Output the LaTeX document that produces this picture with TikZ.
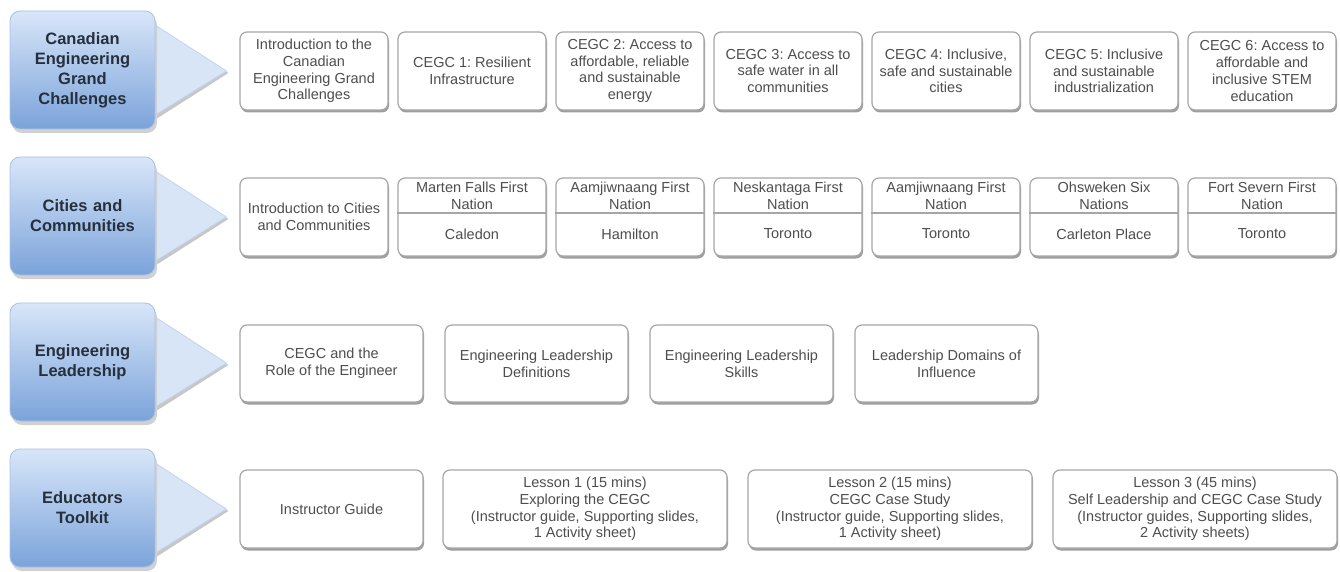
\documentclass[tikz,border=0pt]{standalone}
\usepackage{fontspec}
\setmainfont{Liberation Sans}
\frenchspacing
\usetikzlibrary{shadows,backgrounds,calc}
\definecolor{btop}{HTML}{D8E6F9}
\definecolor{bbot}{HTML}{7BA3DA}
\definecolor{bedge}{HTML}{A9C2E6}
\definecolor{trifill}{HTML}{D8E5F7}
\definecolor{triedge}{HTML}{C3D4EC}
\definecolor{cborder}{HTML}{A6A6A6}
\definecolor{ctext}{HTML}{4E4E4E}
\definecolor{btext}{HTML}{26303D}
\tikzset{
  bluebox/.style={rounded corners=10pt, minimum width=145pt, minimum height=118pt,
    top color=btop, bottom color=bbot, draw=bedge, line width=0.8pt,
    text width=138pt, align=center, inner sep=0pt, text=btext,
    font=\fontsize{16.5}{20}\selectfont\bfseries,
    drop shadow={shadow xshift=2pt, shadow yshift=-4pt, fill=black!18, opacity=1}},
  childbox/.style={rounded corners=7pt, draw=cborder, line width=1.2pt, fill=white,
    text=ctext, align=center, inner sep=1pt, font=\fontsize{14.5}{16.8}\selectfont,
    drop shadow={shadow xshift=1pt, shadow yshift=-2.5pt, fill=black!38, opacity=1}},
  narrow/.style={childbox, minimum width=148pt, minimum height=78pt},
  mid/.style={childbox, minimum width=183pt, minimum height=77pt},
  wide/.style={childbox, minimum width=284pt, minimum height=78pt},
  celltext/.style={text=ctext, align=center, inner sep=0pt, font=\fontsize{14.5}{16.5}\selectfont},
  tri/.style={fill=trifill, draw=triedge, line width=0.8pt},
  trishadow/.style={fill=black!22}
}
\begin{document}
\begin{tikzpicture}[x=1pt,y=-1pt]
\useasboundingbox (0,0) rectangle (1340,572);

% category boxes
\node[bluebox] (b1) at (82.5,70) {Canadian\\Engineering\\Grand\\Challenges};
\node[bluebox] (b2) at (82.5,216) {Cities and\\Communities};
\node[bluebox] (b3) at (82.5,362) {Engineering\\Leadership};
\node[bluebox] (b4) at (82.5,508) {Educators\\Toolkit};

\begin{pgfonlayer}{background}
\fill[white] (0,0) rectangle (1340,572);
\foreach \b in {b1,b2,b3,b4}{
  \fill[trishadow] ($(\b.east)+(-4,-45)$) -- ($(\b.east)+(73,3)$) -- ($(\b.east)+(-4,52)$) -- cycle;
  \filldraw[tri] ($(\b.east)+(-5,-48)$) -- ($(\b.east)+(71,1)$) -- ($(\b.east)+(-5,48)$) -- cycle;
}
\end{pgfonlayer}

% row 1
\node[narrow] (r1c1) at (314,71) {Introduction to the\\Canadian\\Engineering Grand\\Challenges};
\node[narrow] (r1c2) at (472,71) {CEGC 1: Resilient\\Infrastructure};
\node[narrow] (r1c3) at (630,71) {CEGC 2: Access to\\affordable, reliable\\and sustainable\\energy};
\node[narrow] (r1c4) at (788,71) {CEGC 3: Access to\\safe water in all\\communities};
\node[narrow] (r1c5) at (946,71) {CEGC 4: Inclusive,\\safe and sustainable\\cities};
\node[narrow] (r1c6) at (1104,71) {CEGC 5: Inclusive\\and sustainable\\industrialization};
\node[narrow] (r1c7) at (1262,71) {CEGC 6: Access to\\affordable and\\inclusive STEM\\education};

% row 2
\node[narrow] (r2c1) at (314,217) {Introduction to Cities\\and Communities};
\foreach \n/\x/\top/\bot in {
  2/472/{Marten Falls First\\Nation}/Caledon,
  3/630/{Aamjiwnaang First\\Nation}/Hamilton,
  4/788/{Neskantaga First\\Nation}/Toronto,
  5/946/{Aamjiwnaang First\\Nation}/Toronto,
  6/1104/{Ohsweken Six\\Nations}/{Carleton Place},
  7/1262/{Fort Severn First\\Nation}/Toronto}{
  \node[narrow] (r2c\n) at (\x,217) {};
  \draw[cborder, line width=1.2pt] (r2c\n.west |- 0,213) -- (r2c\n.east |- 0,213);
  \node[celltext] (r2t\n) at (\x,196) {\top};
  \node[celltext] (r2b\n) at (\x,234) {\bot};
}

% row 3
\node[mid] (r3c1) at (331.5,363.5) {CEGC and the\\Role of the Engineer};
\node[mid] (r3c2) at (536.5,363.5) {Engineering Leadership\\Definitions};
\node[mid] (r3c3) at (741.5,363.5) {Engineering Leadership\\Skills};
\node[mid] (r3c4) at (946.5,363.5) {Leadership Domains of\\Influence};

% row 4
\node[mid, minimum height=78pt] (r4c1) at (331.5,509) {Instructor Guide};
\node[wide] (r4c2) at (585,509) {Lesson 1 (15 mins)\\Exploring the CEGC\\(Instructor guide, Supporting slides,\\1 Activity sheet)};
\node[wide] (r4c3) at (890,509) {Lesson 2 (15 mins)\\CEGC Case Study\\(Instructor guide, Supporting slides,\\1 Activity sheet)};
\node[wide] (r4c4) at (1195,509) {Lesson 3 (45 mins)\\Self Leadership and CEGC Case Study\\(Instructor guides, Supporting slides,\\2 Activity sheets)};
\end{tikzpicture}
\end{document}
